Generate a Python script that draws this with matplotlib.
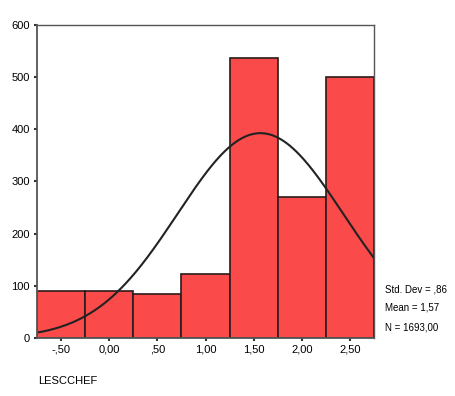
import numpy as np
import matplotlib
matplotlib.use("Agg")
import matplotlib.pyplot as plt

plt.rcParams['font.family'] = ['Liberation Sans', 'DejaVu Sans']

bin_edges = [-0.75, -0.25, 0.25, 0.75, 1.25, 1.75, 2.25, 2.75]
counts = [90, 90, 85, 122, 536, 270, 500]
x_ticks = [-0.5, 0.0, 0.5, 1.0, 1.5, 2.0, 2.5]
x_tick_labels = ["-,50", "0,00", ",50", "1,00", "1,50", "2,00", "2,50"]
y_ticks = [0, 100, 200, 300, 400, 500, 600]
std_dev = 0.86
mean = 1.57
n_total = 1693.00
var_name = "LESCCHEF"

fig = plt.figure(figsize=(4.55, 3.96), dpi=100)
ax = fig.add_axes([37/455, 1 - 338/396, (374-37)/455, (338-25)/396])

lefts = bin_edges[:-1]
widths = np.diff(bin_edges)
ax.bar(lefts, counts, width=widths, align='edge', color='#FA4A4A',
       edgecolor='#2a1a1a', linewidth=1.2)

bw = widths[0]
xs = np.linspace(bin_edges[0], bin_edges[-1], 300)
ys = n_total * bw / (std_dev * np.sqrt(2*np.pi)) * np.exp(-0.5*((xs-mean)/std_dev)**2)
ax.plot(xs, ys, color='#222222', linewidth=1.5)

ax.set_xlim(bin_edges[0], bin_edges[-1])
ax.set_ylim(0, 600)
ax.set_xticks(x_ticks)
ax.set_xticklabels(x_tick_labels)
ax.set_yticks(y_ticks)
ax.tick_params(axis='both', labelsize=8, length=2, width=1.5, color='#333333', pad=3)
for s in ax.spines.values():
    s.set_color('#555555')
    s.set_linewidth(1.0)
ax.spines['left'].set_linewidth(1.3)
ax.spines['bottom'].set_linewidth(1.3)

fig.text(385/455, 1 - 289/396, "Std. Dev = ,86", fontsize=7, va='center', ha='left')
fig.text(385/455, 1 - 308/396, "Mean = 1,57", fontsize=7, va='center', ha='left')
fig.text(385/455, 1 - 327/396, "N = 1693,00", fontsize=7, va='center', ha='left')
fig.text(38/455, 1 - 381/396, var_name, fontsize=8, va='center', ha='left')

fig.savefig("out.png", dpi=100)
